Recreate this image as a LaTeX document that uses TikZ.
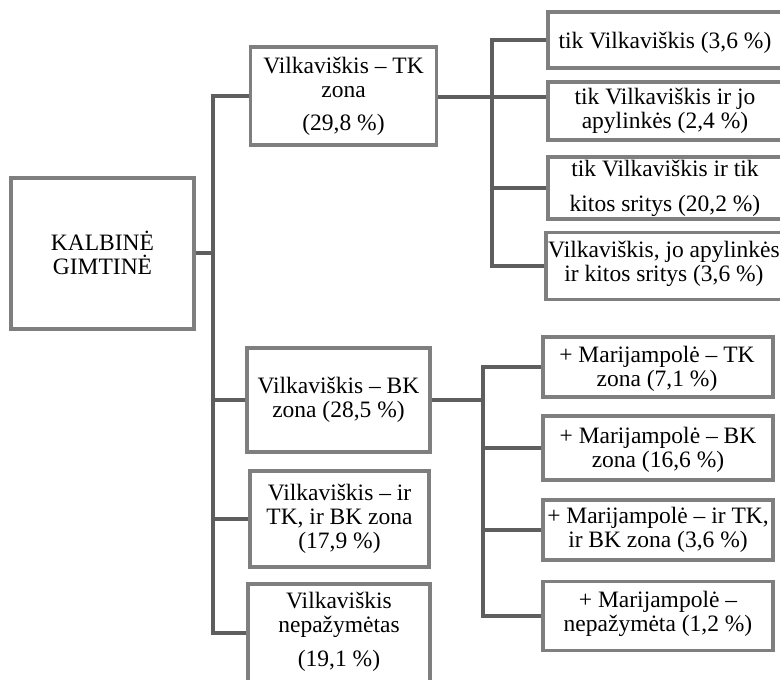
\documentclass[tikz,border=0pt]{standalone}
\usepackage{fontspec}
\setmainfont{Liberation Serif}
\definecolor{boxgray}{HTML}{7F7F7F}
\definecolor{conngray}{HTML}{5E5E5E}
\tikzset{
  box/.style={draw=boxgray, line width=3.5pt, fill=white, rectangle, inner sep=0pt},
  txt/.style={align=center, inner sep=0pt, font=\fontsize{23.5}{24}\selectfont},
  conn/.style={draw=conngray, line width=3.5pt}
}
\begin{document}
\begin{tikzpicture}[x=1pt,y=-1pt]
\useasboundingbox (0,0) rectangle (780,680);
\clip (0,0) rectangle (780,680);
\fill[white] (0,0) rectangle (780,680);

% left column
\node[box, minimum width=183pt, minimum height=151pt] (root) at (102.5,253.5) {};
\node[txt] (roott) at (102.5,253) {KALBINĖ\\GIMTINĖ};

\node[box, minimum width=186pt, minimum height=98pt] (tk) at (343.5,96) {};
\node[txt] (tkt) at (343.5,96) {Vilkaviškis – TK\\zona\\[9pt](29,8 \%)};

\node[box, minimum width=183pt, minimum height=104pt] (bk) at (338.5,400) {};
\node[txt] (bkt) at (338.5,400) {Vilkaviškis – BK\\zona (28,5 \%)};

\node[box, minimum width=179pt, minimum height=96pt] (ir) at (339.5,519) {};
\node[txt] (irt) at (339.5,519) {Vilkaviškis – ir\\TK, ir BK zona\\(17,9 \%)};

\node[box, minimum width=182pt, minimum height=98pt] (nep) at (339,633) {};
\node[txt] (nept) at (339,631.5) {Vilkaviškis\\nepažymėtas\\[10pt](19,1 \%)};

% top right column
\node[box, minimum width=252pt, minimum height=56pt] (r1) at (674,40) {};
\node[txt] (r1t) at (665,43) {tik Vilkaviškis (3,6 \%)};

\node[box, minimum width=252pt, minimum height=58pt] (r2) at (674,111) {};
\node[txt] (r2t) at (665,110.5) {tik Vilkaviškis ir jo\\apylinkės (2,4 \%)};

\node[box, minimum width=252pt, minimum height=62pt] (r3) at (674,188) {};
\node[txt] (r3t) at (665,188.5) {tik Vilkaviškis ir tik\\[11pt]kitos sritys (20,2 \%)};

\node[box, minimum width=254pt, minimum height=67pt] (r4) at (673,266) {};
\node[txt] (r4t) at (664,263.5) {Vilkaviškis, jo apylinkės\\ir kitos sritys (3,6 \%)};

% bottom right column
\node[box, minimum width=230pt, minimum height=60pt] (b1) at (658,367) {};
\node[txt] (b1t) at (657,369) {+ Marijampolė – TK\\zona (7,1 \%)};

\node[box, minimum width=230pt, minimum height=64pt] (b2) at (658,448) {};
\node[txt] (b2t) at (658,450) {+ Marijampolė – BK\\zona (16,6 \%)};

\node[box, minimum width=230pt, minimum height=60pt] (b3) at (658,530) {};
\node[txt] (b3t) at (658,530) {+ Marijampolė – ir TK,\\ir BK zona (3,6 \%)};

\node[box, minimum width=230pt, minimum height=69pt] (b4) at (658,616) {};
\node[txt] (b4t) at (658,614) {+ Marijampolė –\\nepažymėta (1,2 \%)};

% connectors
\coordinate (j1) at (213,253);
\coordinate (j2) at (492,97);
\coordinate (j3) at (483,400);

\path[conn] (root.east |- j1) -- (j1);
\path[conn] (j1) |- (tk.west);
\path[conn] (j1) |- (bk.west);
\path[conn] (j1) |- (ir.west);
\path[conn] (j1) |- (nep.west);

\path[conn] (tk.east |- j2) -- (j2);
\path[conn] (j2) |- (r1.west);
\path[conn] (j2) -- (r2.west |- j2);
\path[conn] (j2) |- (r3.west);
\path[conn] (j2) |- (r4.west);

\path[conn] (bk.east) -- (j3);
\path[conn] (j3) |- (b1.west);
\path[conn] (j3) |- (b2.west);
\path[conn] (j3) |- (b3.west);
\path[conn] (j3) |- (b4.west);
\end{tikzpicture}
\end{document}
